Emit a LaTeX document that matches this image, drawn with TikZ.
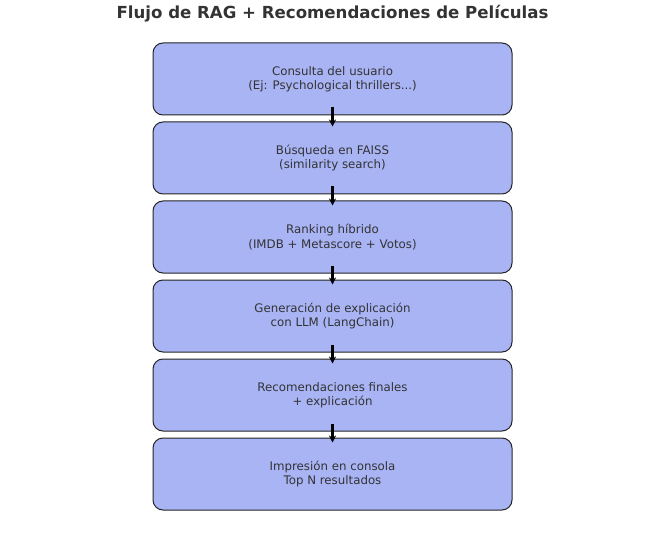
\documentclass[tikz,border=0pt]{standalone}
\usepackage{fontspec}
\setmainfont{DejaVu Sans}
\usetikzlibrary{arrows.meta,calc}
\definecolor{boxfill}{HTML}{A9B4F5}
\definecolor{txt}{HTML}{333333}
\tikzset{
  stepbox/.style={draw=black!85, line width=1pt, fill=boxfill, rounded corners=10pt,
    minimum width=359pt, minimum height=72pt, align=center, text=txt,
    font=\fontsize{11.8}{14.5}\selectfont, inner sep=0pt},
  flow/.style={-{Stealth[length=7pt,width=7pt]}, line width=2.2pt, black}
}
\begin{document}
\begin{tikzpicture}[x=1pt,y=-1pt]
\useasboundingbox (0,0) rectangle (655,545);
\fill[white] (0,0) rectangle (655,545);
\node[text=txt, font=\fontsize{16.6}{19}\selectfont\bfseries] (title) at (332.5,14) {Flujo de RAG + Recomendaciones de Películas};
\node[stepbox] (s1) at (332.5,79) {Consulta del usuario\\(Ej: Psychological thrillers...)};
\node[stepbox] (s2) at (332.5,158) {Búsqueda en FAISS\\(similarity search)};
\node[stepbox] (s3) at (332.5,237) {Ranking híbrido\\(IMDB + Metascore + Votos)};
\node[stepbox] (s4) at (332.5,316) {Generación de explicación\\con LLM (LangChain)};
\node[stepbox] (s5) at (332.5,395) {Recomendaciones finales\\+ explicación};
\node[stepbox] (s6) at (332.5,474) {Impresión en consola\\Top N resultados};
\foreach \a/\b in {s1/s2,s2/s3,s3/s4,s4/s5,s5/s6}{
  \draw[flow] ($(\a.south)+(0,-8)$) -- ($(\b.north)+(0,5)$);
}
\end{tikzpicture}
\end{document}
